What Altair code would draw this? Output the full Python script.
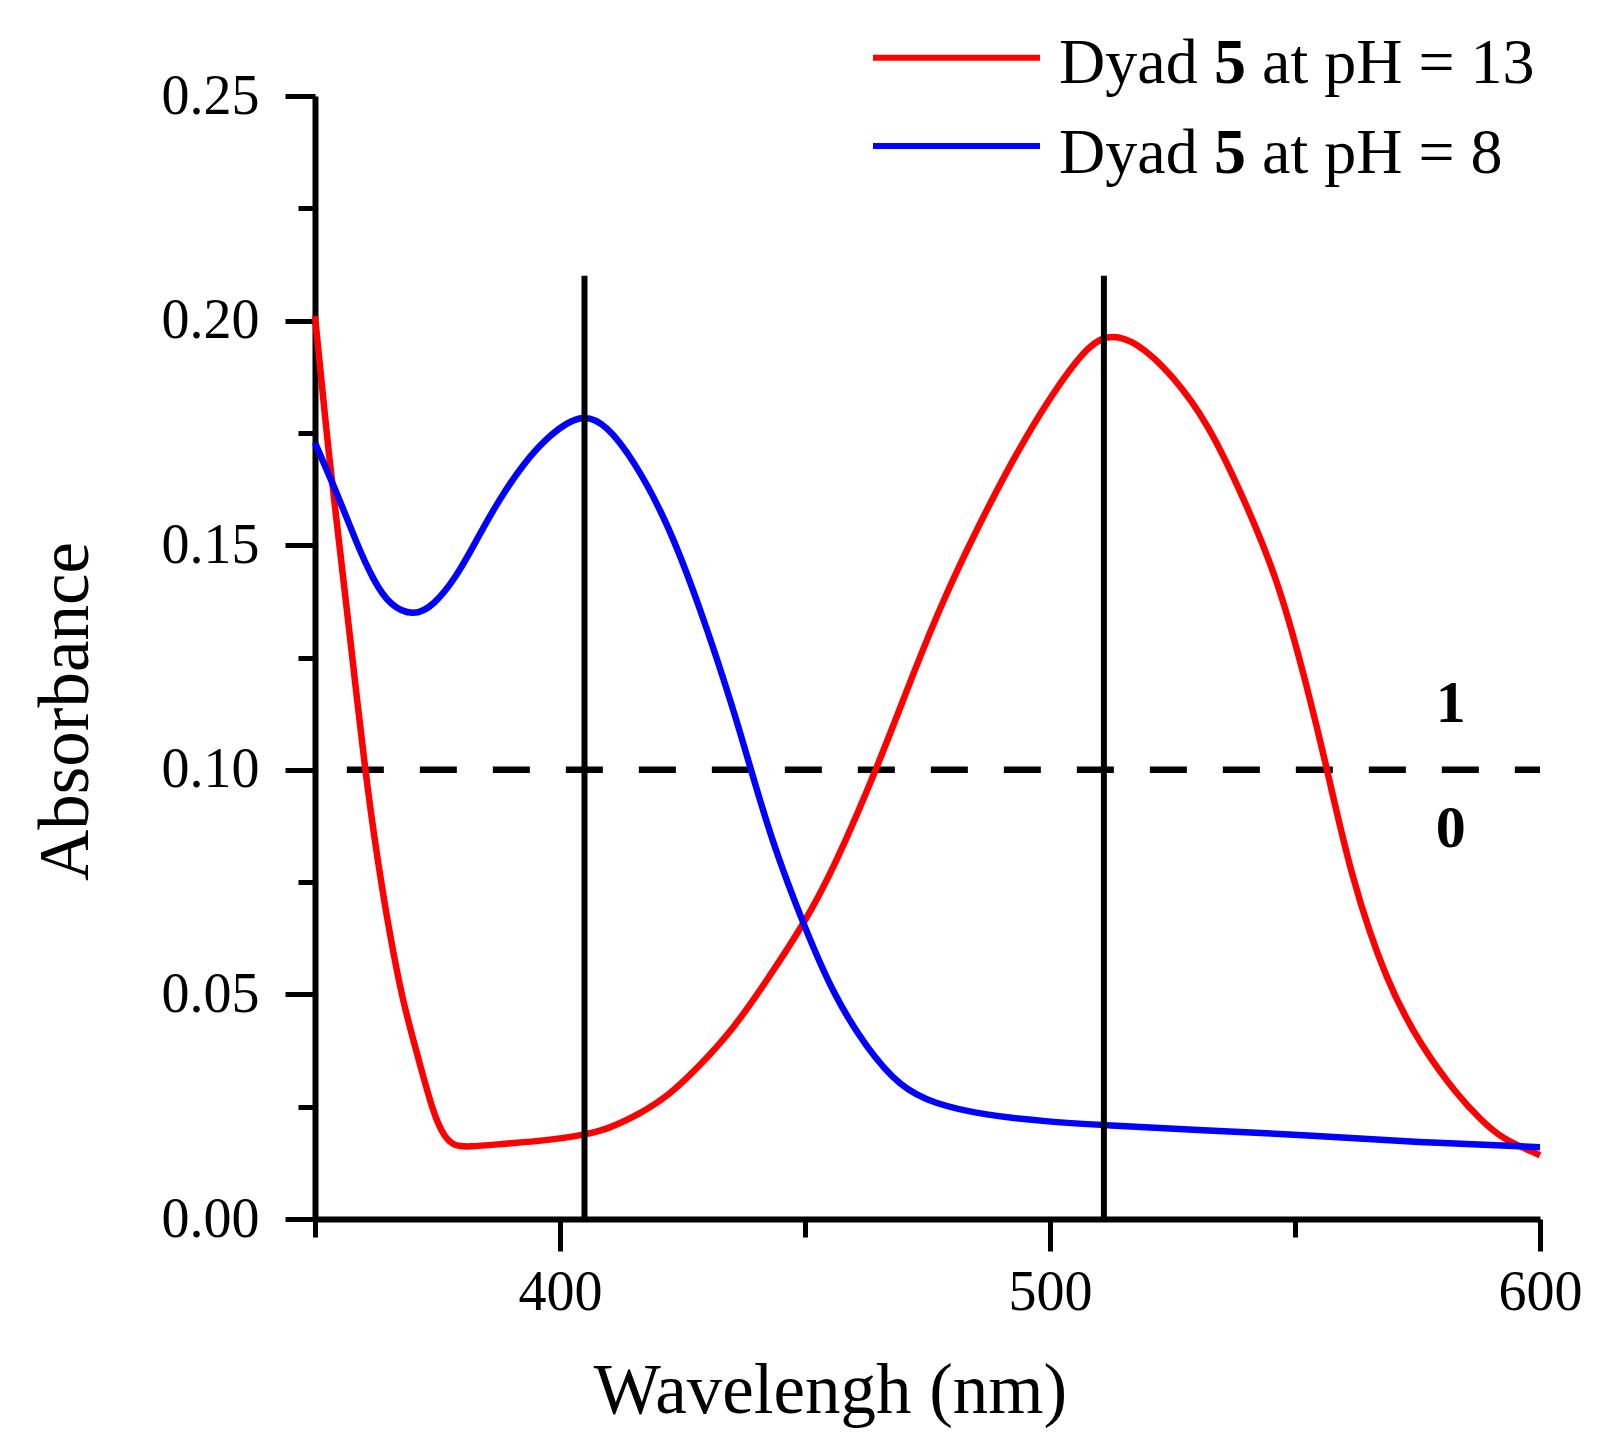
import altair as alt
import pandas as pd

# ---------------- data ----------------
wl_ph13 = [350, 353, 355, 357, 360.2, 362.6, 365.3, 368, 370.8, 374.1, 376.5, 378.5, 381,
           389, 396.6, 404.4, 409.5, 416, 422, 428, 435.4, 442.2, 449.7, 455.8, 464.6,
           472.8, 478.5, 484.8, 492.1, 499.4, 506.7, 511.4, 517.6, 524.9, 532.2, 539.5,
           546.8, 552.6, 556.6, 561.4, 568.7, 576, 583.2, 588, 592, 600]
abs_ph13 = [0.201, 0.168, 0.150, 0.131, 0.100, 0.081, 0.063, 0.048, 0.037, 0.0235, 0.018, 0.0163, 0.016,
            0.0168, 0.0174, 0.0186, 0.0199, 0.0232, 0.0273, 0.0335, 0.0423, 0.0531, 0.0655, 0.0779, 0.100,
            0.1235, 0.1385, 0.153, 0.1685, 0.182, 0.1932, 0.1972, 0.1955, 0.188, 0.1773, 0.1606,
            0.1416, 0.1179, 0.100, 0.0763, 0.0525, 0.038, 0.0275, 0.022, 0.018, 0.0142]

wl_ph8 = [350, 355.1, 358.5, 361.9, 365.3, 370.1, 374.1, 378.9, 383, 387.1, 392.5, 398,
          404.5, 409.5, 415, 421.8, 428.6, 435.4, 438.8, 443.5, 449.7, 455.8, 462.6, 469.4,
          476.2, 486.6, 500, 511.2, 530.6, 554, 574.5, 600]
abs_ph8 = [0.1728, 0.160, 0.1504, 0.1422, 0.1365, 0.1342, 0.1364, 0.143, 0.1512, 0.1593, 0.1682, 0.1748,
           0.1795, 0.1768, 0.169, 0.1555, 0.1361, 0.1135, 0.1006, 0.0833, 0.0655, 0.0499, 0.038, 0.0294,
           0.0257, 0.0231, 0.0216, 0.0209, 0.0198, 0.0186, 0.0171, 0.016]

series_names = ["Dyad 5 at pH = 13", "Dyad 5 at pH = 8"]
series_colors = ["#FF0000", "#0000FF"]
legend_prefix = ["Dyad", "Dyad"]
legend_bold = ["5", "5"]
legend_suffix = ["at pH = 13", "at pH = 8"]

marker_wl = [405, 511]
marker_top = 0.21
threshold_value = 0.10
threshold_start = 356.5
threshold_end = 600
state_labels = ["1", "0"]
state_wl = [581.8, 581.8]
state_abs = [0.1107, 0.0828]

x_ticks = [350, 400, 450, 500, 550, 600]
y_ticks = [0.0, 0.025, 0.05, 0.075, 0.1, 0.125, 0.15, 0.175, 0.2, 0.225, 0.25]

FONT = "Liberation Serif"

# ---------------- tables ----------------
df13 = pd.DataFrame({"wl": wl_ph13, "a": abs_ph13, "series": series_names[0]})
df8 = pd.DataFrame({"wl": wl_ph8, "a": abs_ph8, "series": series_names[1]})
markers = pd.DataFrame({"wl": marker_wl, "y0": 0.0, "y1": marker_top})
thresh = pd.DataFrame({"x1": [threshold_start], "x2": [threshold_end], "y": [threshold_value]})
states = pd.DataFrame({"wl": state_wl, "a": state_abs, "t": state_labels})

xs = alt.Scale(domain=[350, 600], nice=False, zero=False)
ys = alt.Scale(domain=[0, 0.25], nice=False)

x_axis = alt.Axis(
    values=x_ticks, title="Wavelengh (nm)",
    labelExpr="datum.value % 100 === 0 ? datum.label : ''",
    tickSize={"condition": {"test": "datum.value % 100 === 0", "value": 32}, "value": 18},
    grid=False, domainColor="black", domainWidth=6, tickColor="black", tickWidth=5,
    labelFont=FONT, labelFontSize=56, labelColor="black", labelPadding=14,
    labelFlush=False, labelOverlap=False,
    titleFont=FONT, titleFontSize=71, titleFontWeight="normal", titleColor="black",
    titleX=515, titleY=193, titleBaseline="alphabetic", titleAlign="center", titleAnchor="start",
)
y_axis = alt.Axis(
    values=y_ticks, title="Absorbance",
    labelExpr="round(datum.value*40) % 2 === 0 ? format(datum.value, '.2f') : ''",
    tickSize={"condition": {"test": "round(datum.value*40) % 2 === 0", "value": 30}, "value": 17},
    grid=False, domainColor="black", domainWidth=6, tickColor="black", tickWidth=5,
    labelFont=FONT, labelFontSize=56, labelColor="black", labelPadding=26,
    labelFlush=False, labelOverlap=False,
    titleFont=FONT, titleFontSize=71, titleFontWeight="normal", titleColor="black",
    titleX=-228, titleY=615, titleBaseline="alphabetic", titleAlign="center", titleAngle=-90,
    titleAnchor="start",
)

color_scale = alt.Scale(domain=series_names, range=series_colors)

dash = alt.Chart(thresh).mark_rule(color="black", strokeWidth=6.5, strokeDash=[37, 36]).encode(
    x=alt.X("x1:Q", scale=xs, axis=x_axis),
    x2="x2:Q",
    y=alt.Y("y:Q", scale=ys, axis=y_axis),
)

red = alt.Chart(df13).mark_line(strokeWidth=6.5, interpolate="basis").encode(
    x=alt.X("wl:Q", scale=xs),
    y=alt.Y("a:Q", scale=ys),
    color=alt.Color("series:N", scale=color_scale, legend=None),
)
blue = alt.Chart(df8).mark_line(strokeWidth=6.5, interpolate="basis").encode(
    x=alt.X("wl:Q", scale=xs),
    y=alt.Y("a:Q", scale=ys),
    color=alt.Color("series:N", scale=color_scale, legend=None),
)

vlines = alt.Chart(markers).mark_rule(color="black", strokeWidth=6).encode(
    x=alt.X("wl:Q", scale=xs),
    y=alt.Y("y0:Q", scale=ys),
    y2="y1:Q",
)

state_text = alt.Chart(states).mark_text(
    font=FONT, fontSize=60, fontWeight="bold", color="black", align="center", baseline="alphabetic"
).encode(
    x=alt.X("wl:Q", scale=xs),
    y=alt.Y("a:Q", scale=ys),
    text="t:N",
)

# ---------------- custom legend ----------------
one = alt.Data(values=[{}])
legend_layers = []
row_line_y = [-38.3, 50]
row_base_y = [-12.7, 77.3]
for i in range(2):
    legend_layers.append(
        alt.Chart(one).mark_rule(color=series_colors[i], strokeWidth=6).encode(
            x=alt.value(558), x2=alt.value(725), y=alt.value(row_line_y[i])
        )
    )
    legend_layers.append(
        alt.Chart(one).mark_text(text=legend_prefix[i], font=FONT, fontSize=64, color="black",
                                 align="left", baseline="alphabetic").encode(
            x=alt.value(744), y=alt.value(row_base_y[i]))
    )
    legend_layers.append(
        alt.Chart(one).mark_text(text=legend_bold[i], font=FONT, fontSize=64, fontWeight="bold",
                                 color="black", align="left", baseline="alphabetic").encode(
            x=alt.value(899), y=alt.value(row_base_y[i]))
    )
    legend_layers.append(
        alt.Chart(one).mark_text(text=legend_suffix[i], font=FONT, fontSize=64, color="black",
                                 align="left", baseline="alphabetic").encode(
            x=alt.value(947), y=alt.value(row_base_y[i]))
    )

chart = alt.layer(dash, red, blue, vlines, state_text, *legend_layers).properties(
    width=1225, height=1123,
    autosize=alt.AutoSizeParams(type="none"),
    padding={"left": 307, "top": 88, "right": 60, "bottom": 220},
).configure(background="white", view=alt.ViewConfig(stroke=None))

chart.save("out.html", embed_options={"renderer": "svg", "actions": False})
